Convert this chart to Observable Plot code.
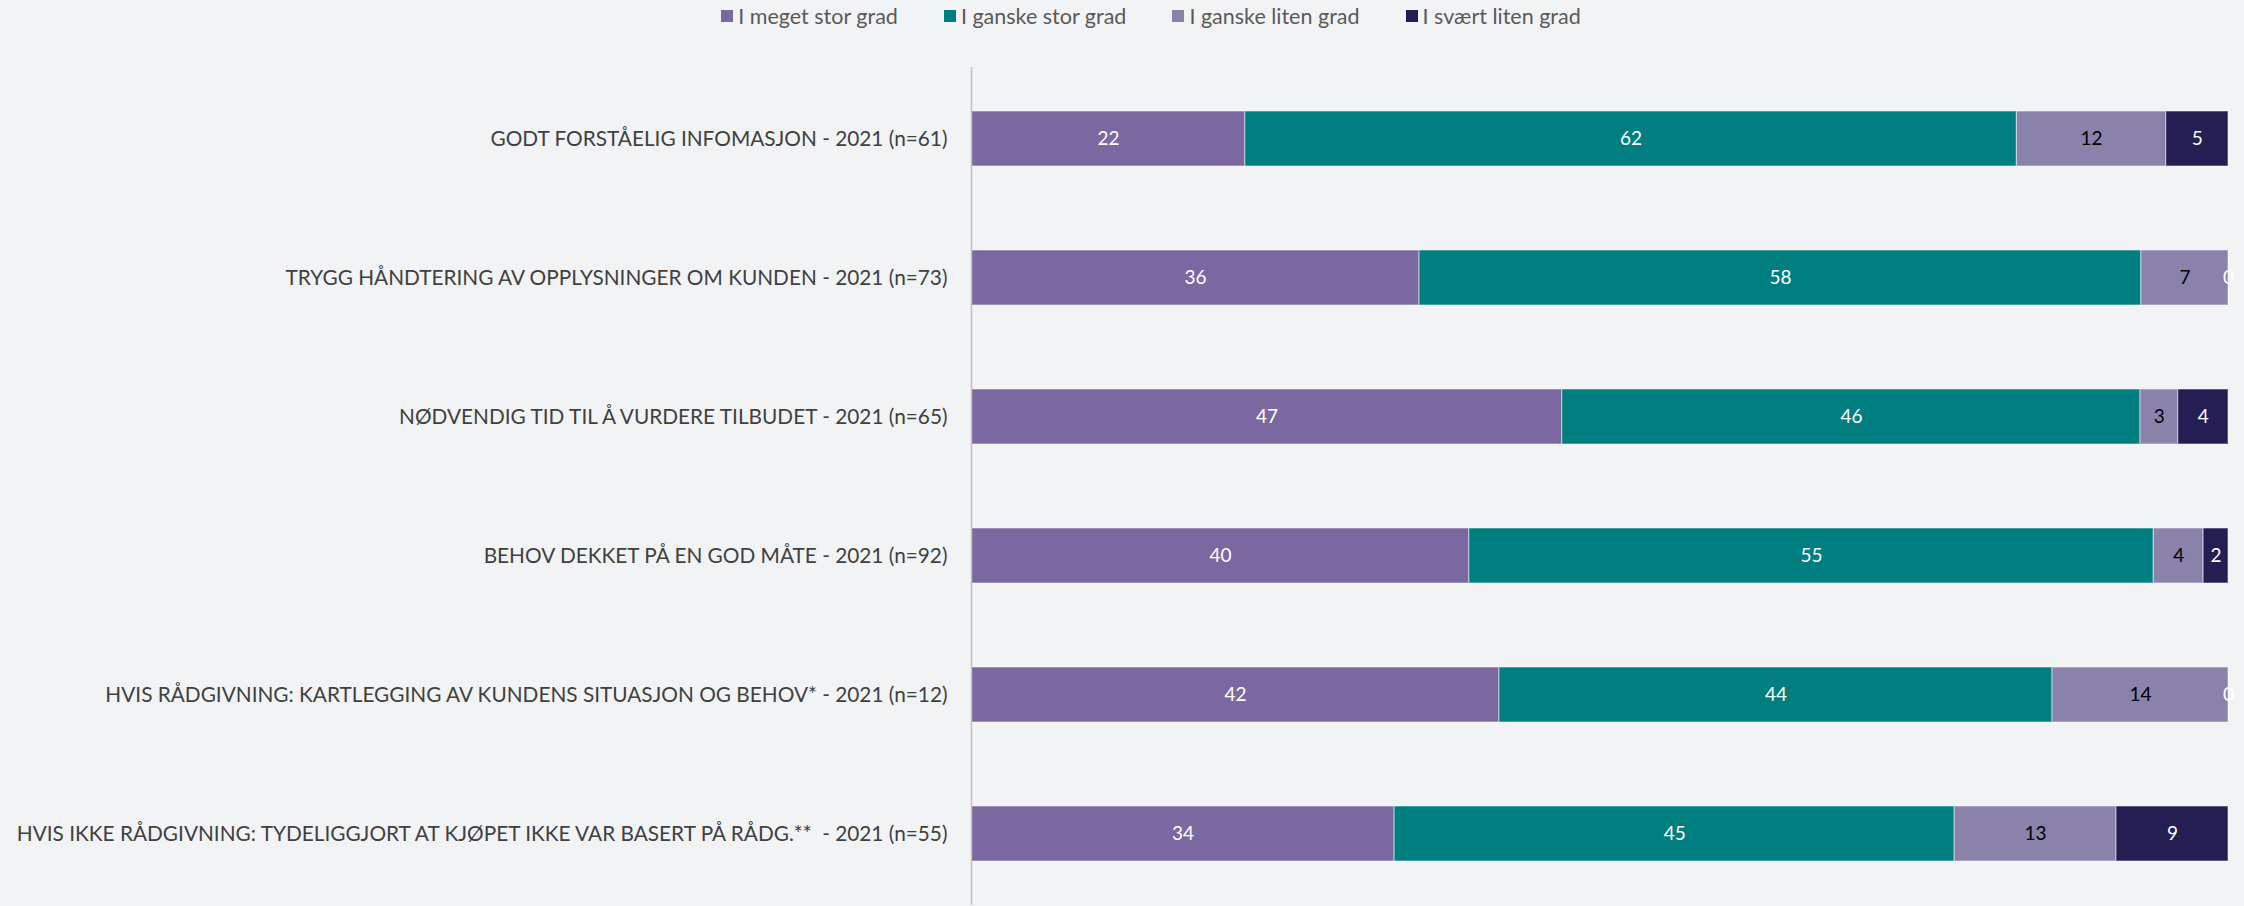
<!DOCTYPE html>
<html>
<head>
<meta charset="utf-8">
<script src="https://cdn.jsdelivr.net/npm/d3@7"></script>
<script src="https://cdn.jsdelivr.net/npm/@observablehq/plot@0.6"></script>
<style>
  html, body { margin: 0; padding: 0; background: #F2F3F5; }
  body { width: 2244px; height: 906px; overflow: hidden; font-family: Lato, "Open Sans", sans-serif; }
  #legend { height: 32px; padding-bottom: 8px; display: flex; justify-content: center; align-items: center; gap: 46px; padding-left: 58px; font-size: 21.5px; color: #595959; }
  #legend .item { display: flex; align-items: center; gap: 5px; }
  #legend .sw { width: 12px; height: 12px; display: inline-block; }
</style>
</head>
<body>
<div id="legend"></div>
<div id="chart"></div>
<script>
const categories = [
  "GODT FORSTÅELIG INFOMASJON - 2021 (n=61)",
  "TRYGG HÅNDTERING AV OPPLYSNINGER OM KUNDEN - 2021 (n=73)",
  "NØDVENDIG TID TIL Å VURDERE TILBUDET - 2021 (n=65)",
  "BEHOV DEKKET PÅ EN GOD MÅTE - 2021 (n=92)",
  "HVIS RÅDGIVNING: KARTLEGGING AV KUNDENS SITUASJON OG BEHOV* - 2021 (n=12)",
  "HVIS IKKE RÅDGIVNING: TYDELIGGJORT AT KJØPET IKKE VAR BASERT PÅ RÅDG.**  - 2021 (n=55)"
];
const series = ["I meget stor grad", "I ganske stor grad", "I ganske liten grad", "I svært liten grad"];
const colors = ["#7B68A0", "#007E80", "#8B82AB", "#241E52"];
const meget = [22, 36, 47, 40, 42, 34];
const ganskeStor = [62, 58, 46, 55, 44, 45];
const ganskeLiten = [12, 7, 3, 4, 14, 13];
const svaertLiten = [5, 0, 4, 2, 0, 9];

const seriesValues = [meget, ganskeStor, ganskeLiten, svaertLiten];
const data = [];
categories.forEach((c, i) => {
  series.forEach((s, j) => data.push({cat: c, series: s, value: seriesValues[j][i]}));
});

// legend
const legend = document.getElementById("legend");
series.forEach((s, j) => {
  const it = document.createElement("div");
  it.className = "item";
  it.innerHTML = `<span class="sw" style="background:${colors[j]}"></span><span>${s}</span>`;
  legend.appendChild(it);
});

const stackOpts = {x: "value", y: "cat", z: "series", offset: "normalize", order: series};

const chart = Plot.plot({
  width: 2244,
  height: 866,
  marginLeft: 971,
  marginRight: 16,
  marginTop: 27,
  marginBottom: 1,
  style: {background: "transparent", color: "#404040", fontFamily: "Lato, 'Open Sans', sans-serif"},
  x: {axis: null, domain: [0, 1]},
  y: {domain: categories, paddingInner: 0.606, paddingOuter: 0.303, label: null},
  color: {domain: series, range: colors},
  marks: [
    Plot.barX(data, Plot.stackX({...stackOpts, fill: "series", stroke: "white", strokeOpacity: 0.45, strokeWidth: 1.2})),
    Plot.ruleX([0], {stroke: "#BFBFBF", strokeWidth: 1.5}),
    Plot.text(data, Plot.stackX({...stackOpts, text: d => d.series === series[2] ? "" : String(d.value), fill: "white", fontSize: 19})),
    Plot.text(data, Plot.stackX({...stackOpts, text: d => d.series === series[2] ? String(d.value) : "", fill: "black", fontSize: 19})),
    Plot.axisY({tickSize: 0, tickPadding: 24, fontSize: 20.8, label: null})
  ]
});
document.getElementById("chart").appendChild(chart);
</script>
</body>
</html>
